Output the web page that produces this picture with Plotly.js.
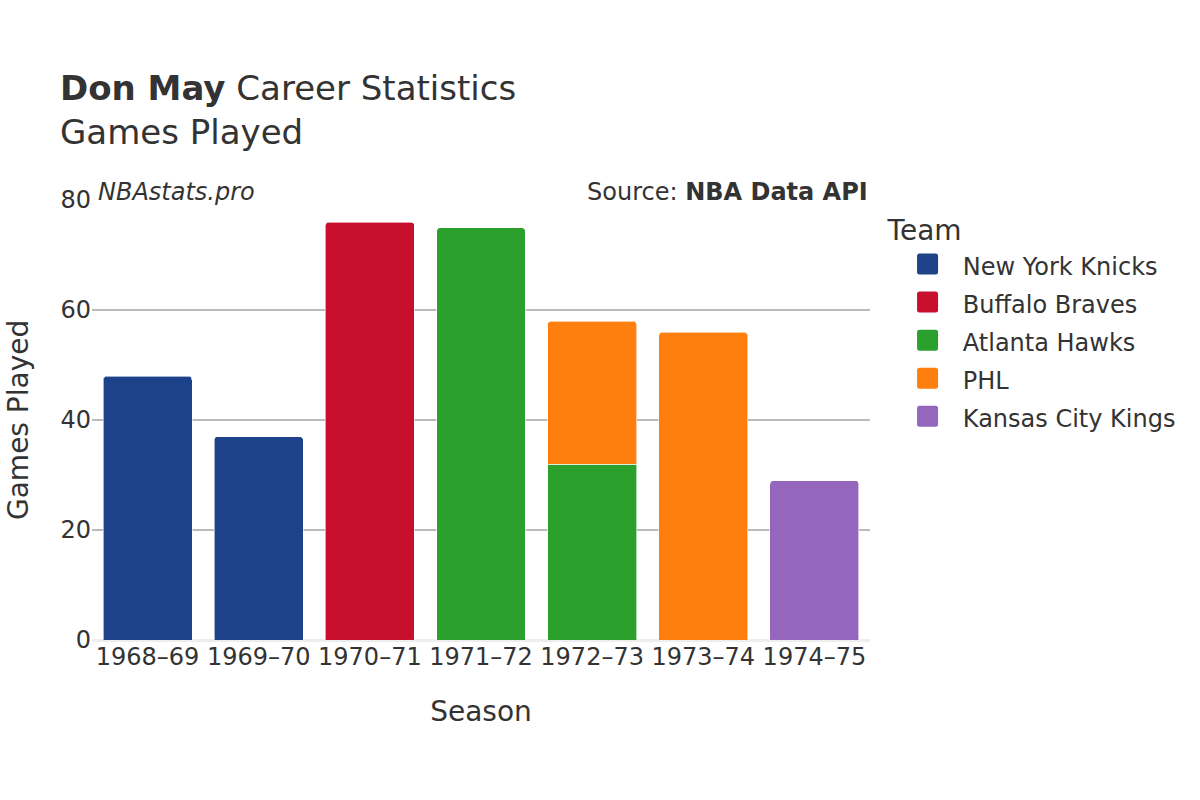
<!DOCTYPE html>
<html>
<head>
<meta charset="utf-8">
<script src="https://cdn.plot.ly/plotly-3.0.1.min.js"></script>
<style>html,body{margin:0;padding:0;background:#fff;}#chart{width:1200px;height:800px;}
.legend path.scatterpts, .legend .legendpoints path{stroke-linejoin:round !important;}</style>
</head>
<body>
<div id="chart"></div>
<script>
const seasons = ["1968–69","1969–70","1970–71","1971–72","1972–73","1973–74","1974–75"];
const teams = ["New York Knicks","Buffalo Braves","Atlanta Hawks","PHL","Kansas City Kings"];
const teamColors = ["#1d428a","#c8102e","#2ca02c","#ff7f0e","#9467bd"];
const knicksSeasons = ["1968–69","1969–70"];
const knicksGames = [48,37];
const bravesSeasons = ["1970–71"];
const bravesGames = [76];
const hawksSeasons = ["1971–72","1972–73"];
const hawksGames = [75,32];
const phlSeasons = ["1972–73","1973–74"];
const phlGames = [26,56];
const kingsSeasons = ["1974–75"];
const kingsGames = [29];

const seriesX = [knicksSeasons,bravesSeasons,hawksSeasons,phlSeasons,kingsSeasons];
const seriesY = [knicksGames,bravesGames,hawksGames,phlGames,kingsGames];

const font = "DejaVu Sans, sans-serif";
const traces = teams.map((t,i)=>({
  type:"bar",
  name:t,
  legendgroup:t,
  showlegend:false,
  x:seriesX[i],
  y:seriesY[i],
  marker:{color:teamColors[i], line:{color:"rgba(255,255,255,0.6)", width:1}},
  hovertemplate:"%{x}: %{y}<extra>"+t+"</extra>"
}));
// legend-only entries (larger square swatches)
teams.forEach((t,i)=>{
  traces.push({
    type:"scatter", mode:"markers",
    name:'<span style="font-size:24px">\u00a0\u00a0' + t + '</span>',
    legendgroup:t,
    x:[seriesX[i][0]], y:[null],
    marker:{symbol:"square", size:16, color:teamColors[i], line:{color:teamColors[i], width:5}},
    hoverinfo:"skip"
  });
});

const layout = {
  width:1200, height:800,
  paper_bgcolor:"#fff", plot_bgcolor:"#fff",
  font:{family:font, color:"#333", size:24},
  barmode:"stack",
  bargap:0.2,
  barcornerradius:4,
  showlegend:true,
  margin:{l:92, r:330, t:200, b:160},
  title:{
    text:"<b>Don May</b> Career Statistics<br>Games Played",
    x:0.05, xanchor:"left", y:0.875, yanchor:"top",
    font:{family:font, size:34, color:"#333"}
  },
  xaxis:{
    type:"category",
    categoryorder:"array", categoryarray:seasons,
    title:{text:"Season", font:{size:28, color:"#333"}, standoff:31},
    tickfont:{size:24, color:"#333"},
    showgrid:false,
    ticks:""
  },
  yaxis:{
    range:[0,80],
    tickvals:[0,20,40,60,80],
    tickfont:{size:24, color:"#333"},
    gridcolor:"#bbbbbb", gridwidth:1.5,
    zeroline:true, zerolinecolor:"#eeeeee", zerolinewidth:3,
    ticks:""
  },
  legend:{
    title:{text:"Team", font:{size:28, color:"#333"}},
    font:{size:27, color:"#333"},
    x:1.02, xanchor:"left", y:0.992, yanchor:"top",
    traceorder:"normal",
    tracegroupgap:0,
    indentation:22,
    itemsizing:"trace"
  },
  annotations:[
    {text:"Games Played", xref:"paper", yref:"paper", x:0, y:0.5, xanchor:"center", yanchor:"middle",
     xshift:-74, textangle:-90, showarrow:false, font:{size:28, color:"#333"}},
    {text:"<i>NBAstats.pro</i>", xref:"paper", yref:"paper", x:0.005, y:1.0, xanchor:"left", yanchor:"bottom",
     yshift:-8, showarrow:false, font:{size:24, color:"#333"}},
    {text:"Source: <b>NBA Data API</b>", xref:"paper", yref:"paper", x:1.0, y:1.0, xanchor:"right", yanchor:"bottom",
     yshift:-8, showarrow:false, font:{size:24, color:"#333"}}
  ]
};

Plotly.newPlot("chart", traces, layout, {displayModeBar:false});
</script>
</body>
</html>
